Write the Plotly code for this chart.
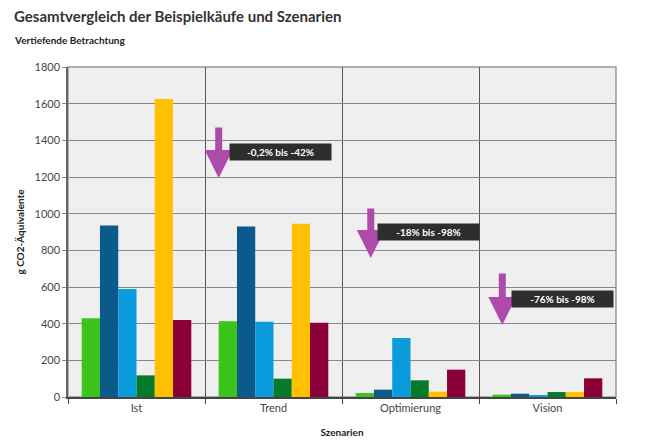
import plotly.graph_objects as go

categories = ["Ist", "Trend", "Optimierung", "Vision"]
series_names = ["Reihe 1", "Reihe 2", "Reihe 3", "Reihe 4", "Reihe 5", "Reihe 6"]
s1 = [430, 413, 22, 13]
s2 = [935, 930, 40, 18]
s3 = [589, 410, 322, 9]
s4 = [118, 100, 91, 27]
s5 = [1625, 945, 29, 27]
s6 = [420, 405, 149, 102]
series_values = [s1, s2, s3, s4, s5, s6]
colors = ["#3CC41C", "#0B5A8C", "#0A9BDC", "#057A2A", "#FFC000", "#8C003A"]

arrow_labels = ["-0,2% bis -42%", "-18% bis -98%", "-76% bis -98%"]
# arrow (x, y_top, y_bottom) in category index / value units
arrow_x = [0.6, 1.71, 2.67]
arrow_top = [1478, 1036, 682]
arrow_bottom = [1195, 758, 393]
label_x = [1.05, 2.13, 3.11]
label_y = [1336, 900, 535]

fig = go.Figure()
for name, vals, c in zip(series_names, series_values, colors):
    fig.add_trace(go.Bar(x=categories, y=vals, name=name, marker=dict(color=c, line=dict(width=0)),
                         showlegend=False))

ann = []
for xa, yt, yb in zip(arrow_x, arrow_top, arrow_bottom):
    ann.append(dict(x=xa, y=yb, ax=xa, ay=yt, xref="x", yref="y", axref="x", ayref="y",
                    text="", showarrow=True, arrowhead=2, arrowsize=0.8, arrowwidth=7,
                    arrowcolor="#AE4BAA"))
for t, xl, yl in zip(arrow_labels, label_x, label_y):
    ann.append(dict(x=xl, y=yl, xref="x", yref="y", text="<b>" + t + "</b>", showarrow=False,
                    bgcolor="#2E2E2E", font=dict(color="white", size=10, family="Lato"),
                    width=97, height=12, borderpad=2))

ann.append(dict(text="<b>Gesamtvergleich der Beispielkäufe und Szenarien</b>", xref="paper", yref="paper",
                x=-0.102, y=1.156, xanchor="left", yanchor="middle", showarrow=False,
                font=dict(size=15, color="#333333", family="Lato")))
ann.append(dict(text="<b>Vertiefende Betrachtung</b>", xref="paper", yref="paper",
                x=-0.102, y=1.082, xanchor="left", yanchor="middle", showarrow=False,
                font=dict(size=10, color="#222222", family="Lato")))

fig.update_layout(
    width=640, height=434,
    margin=dict(l=60, r=32, t=59, b=45, autoexpand=False),
    paper_bgcolor="white", plot_bgcolor="#EFEFEF",
    barmode="group", bargap=0.2, bargroupgap=0,
    font=dict(family="Lato", color="#444444"),
    annotations=ann,
    xaxis=dict(title=dict(text="<b>Szenarien</b>", font=dict(size=10, color="#222222"), standoff=16),
               automargin=False,
               tickson="boundaries", showgrid=True, gridcolor="#555555", gridwidth=1,
               ticks="outside", ticklen=5, tickcolor="#444444",
               showline=True, linecolor="#444444", linewidth=1.5, mirror=False,
               tickfont=dict(size=11, color="#444444")),
    yaxis=dict(title=dict(text="<b>g CO2-Äquivalente</b>", font=dict(size=10, color="#222222"), standoff=8),
               automargin=False,
               range=[0, 1800], dtick=200, showgrid=True, gridcolor="#888888", gridwidth=1.2,
               ticks="outside", ticklen=4, tickcolor="#888888",
               showline=True, linecolor="#666666", linewidth=1.5,
               tickfont=dict(size=11, color="#444444"), zeroline=False),
)
fig.add_shape(type="rect", xref="paper", yref="paper", x0=0, x1=1, y0=0, y1=1,
              line=dict(color="#999999", width=1.5), fillcolor="rgba(0,0,0,0)", layer="below")

fig.write_html("out.html")
